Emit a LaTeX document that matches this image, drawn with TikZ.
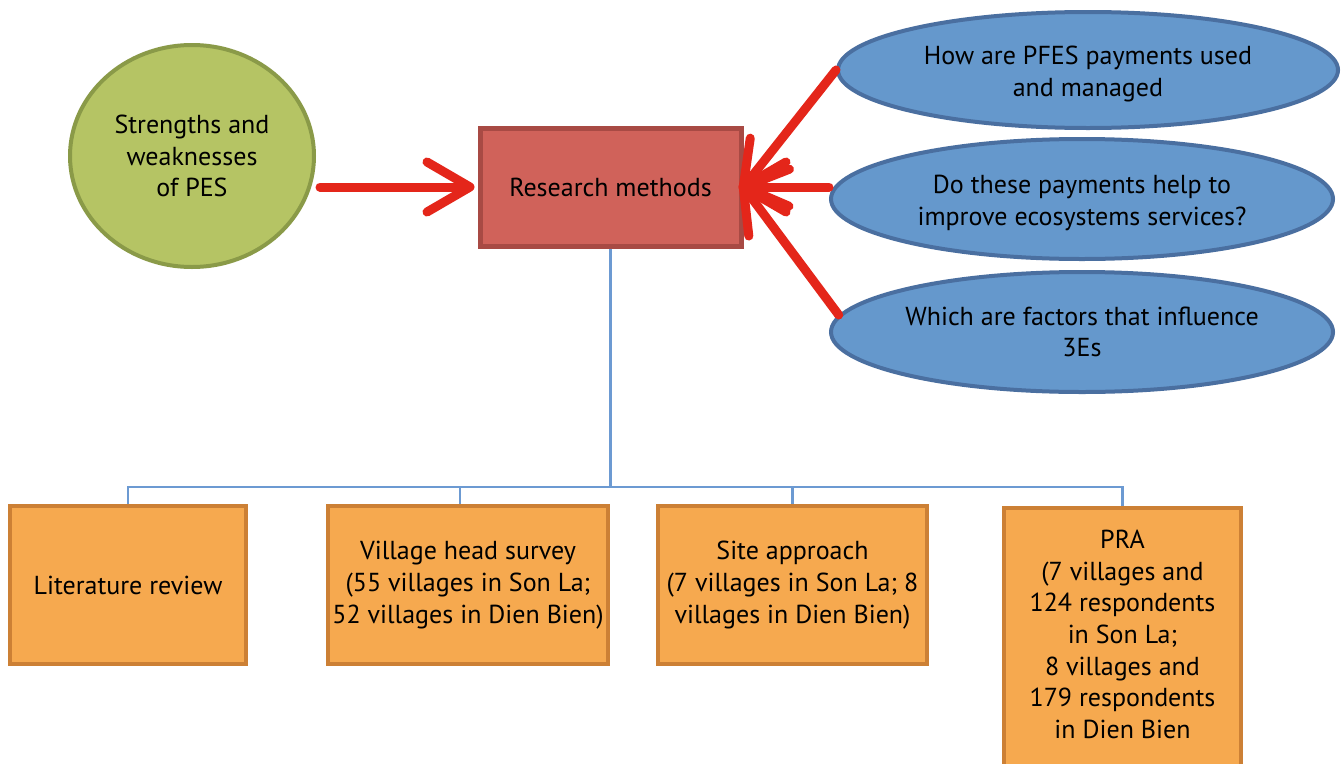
\documentclass[tikz,border=0pt]{standalone}
\usepackage{fontspec}
\setmainfont{PT Sans}
\usetikzlibrary{shapes.geometric,arrows.meta}
\definecolor{greenF}{HTML}{B5C464}
\definecolor{greenD}{HTML}{8A9A48}
\definecolor{redF}{HTML}{D0625A}
\definecolor{redD}{HTML}{A84A44}
\definecolor{blueF}{HTML}{6598CC}
\definecolor{blueD}{HTML}{4A6FA0}
\definecolor{orangeF}{HTML}{F6A94F}
\definecolor{orangeD}{HTML}{CC8035}
\definecolor{arrowR}{HTML}{E4261A}
\definecolor{treeB}{HTML}{6C9AD2}
\tikzset{
  greenc/.style={ellipse, draw=greenD, fill=greenF, line width=4pt, minimum width=244pt, minimum height=222pt, inner sep=0pt, align=center},
  redbox/.style={rectangle, draw=redD, fill=redF, line width=5pt, minimum width=261pt, minimum height=118pt, inner sep=0pt, align=center},
  question/.style={ellipse, draw=blueD, fill=blueF, line width=4pt, minimum width=502pt, minimum height=120pt, inner sep=0pt, align=center},
  method/.style={rectangle, draw=orangeD, fill=orangeF, line width=4pt, minimum height=158pt, inner sep=0pt, align=center},
  redarrow/.style={draw=arrowR, line width=9pt, line cap=round, -{Straight Barb[length=43pt,width=50pt,round]}},
  tree/.style={draw=treeB, line width=2.2pt}
}
\begin{document}
\begin{tikzpicture}[x=1pt,y=-1pt, font=\fontsize{26}{31.7}\selectfont]
\useasboundingbox (0,0) rectangle (1341,763);
\fill[white] (0,0) rectangle (1341,763);

\node[greenc] (pes) at (192,156) {Strengths and\\weaknesses\\of PES};
\node[redbox] (rm) at (610.5,187) {Research methods};

\node[question, minimum width=500pt, minimum height=116pt] (q1) at (1088,70) {\rule{0pt}{26pt}How are PFES payments used\\and managed};
\node[question] (q2) at (1082,199) {\rule{0pt}{26pt}Do these payments help to\\improve ecosystems services?};
\node[question] (q3) at (1082,332) {Which are factors that influence\\3Es};

\node[method, minimum width=236pt] (o1) at (128,585) {Literature review};
\node[method, minimum width=280pt] (o2) at (468,585) {Village head survey\\(55 villages in Son La;\\52 villages in Dien Bien)};
\node[method, minimum width=269pt] (o3) at (792.5,585) {Site approach\\(7 villages in Son La; 8\\villages in Dien Bien)};
\node[method, minimum width=237pt, minimum height=264pt, anchor=north] (o4) at (1122.5,506) {PRA\\(7 villages and\\124 respondents\\in Son La;\\8 villages and\\179 respondents\\in Dien Bien\\[-20pt]\mbox{}};

\coordinate (hub) at (610.5,487);
\draw[tree] (rm.south) -- (hub);
\draw[tree] (o1.north) |- (hub);
\draw[tree] ([xshift=-8pt]o2.north) |- (hub);
\draw[tree] (o3.north) |- (hub);
\draw[tree] (o4.north) |- (hub);

\draw[redarrow, shorten <=4pt, shorten >=3pt] (pes.east |- rm.west) -- (rm.west);
\draw[redarrow, shorten >=-5pt] (q1.west) -- (rm.east);
\draw[redarrow, shorten >=-5pt] (q2.west |- rm.east) -- (rm.east);
\draw[redarrow, shorten >=-5pt] (q3.176.5) -- (rm.east);
\end{tikzpicture}
\end{document}
